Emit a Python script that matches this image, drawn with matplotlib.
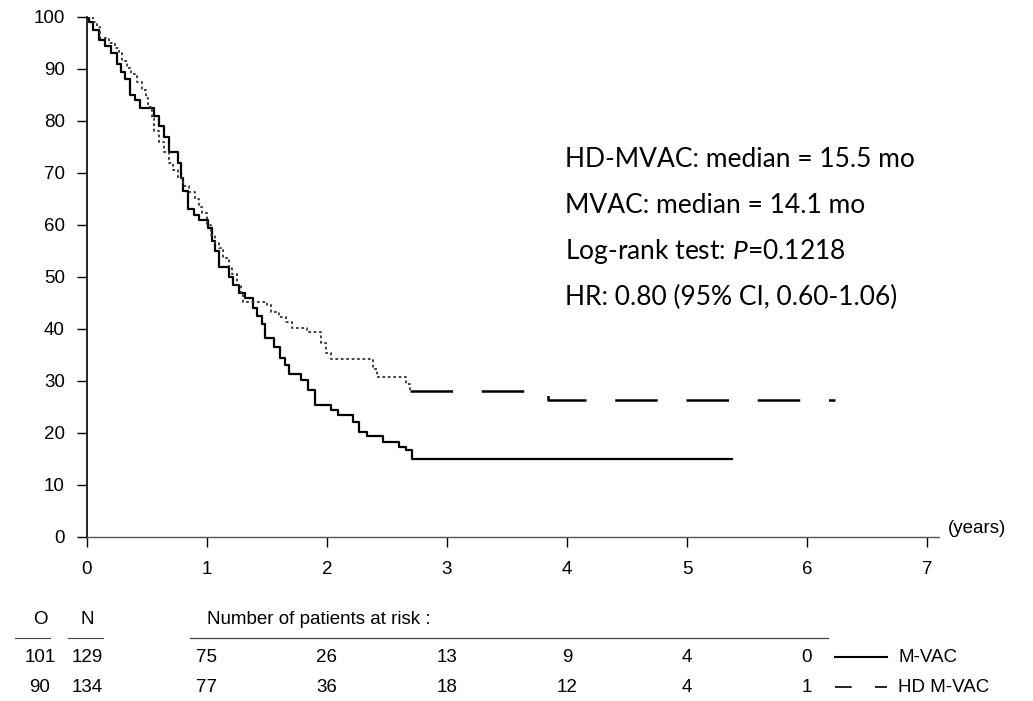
import matplotlib.pyplot as plt
import matplotlib.transforms as mtransforms
from matplotlib.lines import Line2D

# Kaplan-Meier steps (years, % surviving)
mvac_t = [0, 0.02, 0.05, 0.10, 0.15, 0.20, 0.25, 0.28, 0.32, 0.36, 0.40, 0.44,
          0.56, 0.60, 0.64, 0.68, 0.76, 0.78, 0.80, 0.84, 0.89, 0.93, 1.01, 1.04,
          1.07, 1.10, 1.18, 1.22, 1.27, 1.32, 1.38, 1.42, 1.46, 1.48, 1.56, 1.61,
          1.65, 1.68, 1.78, 1.84, 1.90, 2.03, 2.09, 2.22, 2.27, 2.33, 2.47, 2.60,
          2.66, 2.71, 5.375]
mvac_s = [100, 99, 97.5, 95.5, 94.5, 93, 91, 89.5, 88, 85, 84, 82.5,
          81, 79, 77, 74, 72, 69, 66.5, 63, 62, 61, 59.5, 57,
          55, 52, 50, 48.5, 47, 46, 44, 42.5, 41, 38.3, 36.5, 34.5,
          33, 31.3, 30.2, 28.3, 25.4, 24.4, 23.5, 22.1, 20.2, 19.4, 18.3, 17.3,
          16.7, 15.0, 15.0]

hd_t = [0, 0.05, 0.08, 0.11, 0.18, 0.23, 0.27, 0.29, 0.33, 0.37, 0.42, 0.46,
        0.49, 0.51, 0.54, 0.56, 0.60, 0.64, 0.68, 0.72, 0.76, 0.80, 0.85, 0.90,
        0.93, 0.96, 1.00, 1.03, 1.07, 1.10, 1.13, 1.18, 1.21, 1.25, 1.28, 1.30,
        1.50, 1.53, 1.60, 1.66, 1.71, 1.83, 1.95, 1.99, 2.03, 2.38, 2.42, 2.66,
        2.69, 3.84, 6.23]
hd_s = [100, 99, 98, 96, 95, 94, 93, 91.5, 90.2, 89, 87.5, 86,
        84.5, 82.7, 80.5, 78, 76, 74, 72, 70.5, 69, 67.5, 66.3, 65,
        63.5, 62.3, 60, 58, 56.5, 55.5, 53.7, 52, 50.5, 48.5, 46.5, 45.2,
        44.6, 43.3, 42.3, 41.3, 40.2, 39.4, 37.3, 35.4, 34.2, 32.3, 30.8, 29.5,
        28.1, 26.3, 26.3]

# risk table
risk_years = [1, 2, 3, 4, 5, 6]
risk_mvac = [75, 26, 13, 9, 4, 0]
risk_hd = [77, 36, 18, 12, 4, 1]
obs = [101, 90]
n_pat = [129, 134]
arm_names = ['M-VAC', 'HD M-VAC']

stats_lines = ['HD-MVAC: median = 15.5 mo',
               'MVAC: median = 14.1 mo',
               'Log-rank test: $\\it{P}$=0.1218',
               'HR: 0.80 (95% CI, 0.60-1.06)']

plt.rcParams['font.family'] = ['Liberation Sans', 'DejaVu Sans']
plt.rcParams['mathtext.fontset'] = 'custom'
plt.rcParams['mathtext.it'] = 'Lato:italic'

fs = 13.5

fig = plt.figure(figsize=(10.33, 7.01), dpi=100)
ax = fig.add_axes([0.0842, 0.234, 0.8248, 0.7418])

ax.step(mvac_t, mvac_s, where='post', color='black', lw=1.6)

# HD arm: fine dots early, long dashes once the curve flattens
k = hd_t.index(2.69)
ax.step(hd_t[:k + 1], hd_s[:k + 1], where='post', color='#333333', lw=1.3,
        linestyle=(0, (1.5, 1.5)))
ax.step(hd_t[k:], hd_s[k:], where='post', color='black', lw=1.8,
        linestyle=(0, (17, 11.5)))

ax.set_xlim(0, 7.1)
ax.set_ylim(0, 100)
ax.set_xticks(range(0, 8))
ax.set_yticks(range(0, 101, 10))
for s in ['top', 'right']:
    ax.spines[s].set_visible(False)
ax.spines['left'].set_linewidth(1.2)
ax.spines['bottom'].set_linewidth(1.0)
ax.spines['bottom'].set_color('#555555')
ax.tick_params(axis='x', direction='out', length=7, width=1, pad=10, labelsize=fs)
ax.tick_params(axis='y', direction='out', length=7, width=1, pad=9, labelsize=fs)
ax.text(7.17, 0, '(years)', fontsize=fs, va='bottom', ha='left')

# summary statistics
for i, line in enumerate(stats_lines):
    ax.text(0.547, 0.772 - i * 0.0656, line, transform=fig.transFigure,
            fontsize=19, family=['Lato', 'DejaVu Sans'], va='center', ha='left')

# number at risk table
tr = mtransforms.blended_transform_factory(ax.transData, fig.transFigure)
row_y = [1 - 657 / 701, 1 - 687 / 701]
head_y = 1 - 619 / 701
line_y = 1 - 638 / 701

fig.text(40 / 1033, head_y, 'O', fontsize=fs, ha='center', va='center')
fig.text(87 / 1033, head_y, 'N', fontsize=fs, ha='center', va='center')
fig.text(207 / 1033, head_y, 'Number of patients at risk :', fontsize=fs,
         ha='left', va='center')
fig.add_artist(Line2D([15 / 1033, 50 / 1033], [line_y, line_y], color='#444444', lw=0.8))
fig.add_artist(Line2D([68 / 1033, 103 / 1033], [line_y, line_y], color='#444444', lw=0.8))
fig.add_artist(Line2D([190 / 1033, 828 / 1033], [line_y, line_y], color='#444444', lw=0.9))

for r, (o, n, vals) in enumerate(zip(obs, n_pat, [risk_mvac, risk_hd])):
    fig.text(40 / 1033, row_y[r], str(o), fontsize=fs, ha='center', va='center')
    fig.text(87 / 1033, row_y[r], str(n), fontsize=fs, ha='center', va='center')
    for yr, v in zip(risk_years, vals):
        ax.text(yr, row_y[r], str(v), transform=tr, fontsize=fs,
                ha='center', va='center', clip_on=False)

# legend keys at the end of the table rows
fig.add_artist(Line2D([835 / 1033, 887 / 1033], [row_y[0], row_y[0]], color='black', lw=1.5))
fig.add_artist(Line2D([835 / 1033, 887 / 1033], [row_y[1], row_y[1]], color='black', lw=1.2,
                      linestyle=(0, (10, 14))))
fig.text(898 / 1033, row_y[0], arm_names[0], fontsize=fs, ha='left', va='center')
fig.text(898 / 1033, row_y[1], arm_names[1], fontsize=fs, ha='left', va='center')

fig.savefig('out.png', dpi=100)
